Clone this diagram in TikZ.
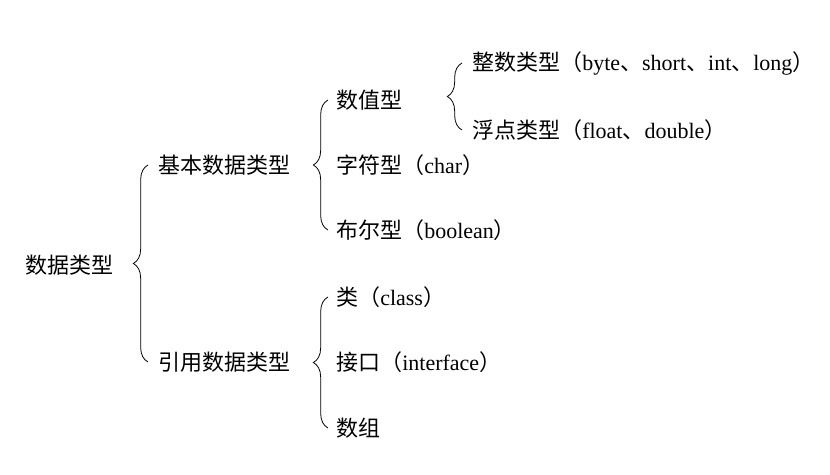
\documentclass[tikz,border=0pt]{standalone}
\usepackage{fontspec}
\setmainfont{Liberation Serif}
\newfontfamily\cjk{Noto Sans CJK SC}
\newcommand{\zh}[1]{{\cjk #1}}
\usetikzlibrary{decorations.pathreplacing}
\tikzset{
  item/.style={anchor=west,inner sep=0pt,font=\fontsize{16.5}{18}\selectfont},
  curly/.style={decorate,decoration={brace,amplitude=11pt,aspect=0.5},line width=0.6pt}
}
\begin{document}
\begin{tikzpicture}[x=0.75pt,y=-0.75pt]
  \useasboundingbox[fill=white] (0,0) rectangle (830,474);
  % root and first level
  \node[item] (root) at (25,265) {\zh{数据类型}};
  \node[item] (basic) at (158,165) {\zh{基本数据类型}};
  \node[item] (ref) at (158,362) {\zh{引用数据类型}};
  % basic types
  \node[item] (num) at (336,100) {\zh{数值型}};
  \node[item] (chr) at (336,165) {\zh{字符型（}char\zh{）}};
  \node[item] (bool) at (336,230) {\zh{布尔型（}boolean\zh{）}};
  % reference types
  \node[item] (cls) at (336,297) {\zh{类（}class\zh{）}};
  \node[item] (intf) at (336,362) {\zh{接口（}interface\zh{）}};
  \node[item] (arr) at (336,428) {\zh{数组}};
  % numeric types
  \node[item] (intt) at (472,63) {\zh{整数类型（}byte\zh{、}short\zh{、}int\zh{、}long\zh{）}};
  \node[item] (flt) at (472,130) {\zh{浮点类型（}float\zh{、}double\zh{）}};
  % braces
  \draw[curly] (148,362) -- (148,165);
  \draw[curly] (328,230) -- (328,100);
  \draw[curly] (328,428) -- (328,297);
  \draw[curly] (462,130) -- (462,63);
\end{tikzpicture}
\end{document}
